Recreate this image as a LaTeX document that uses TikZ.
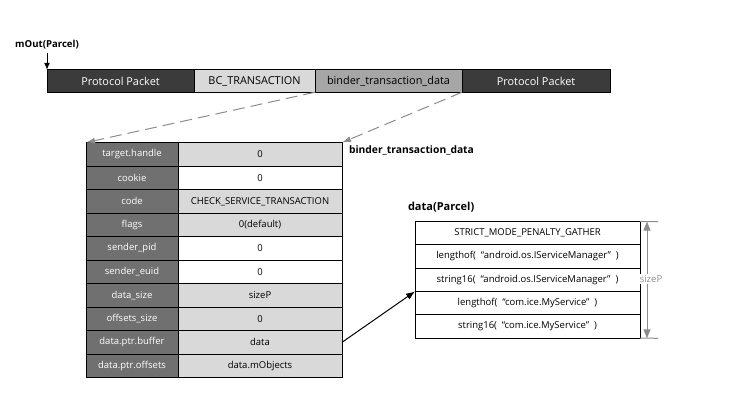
\documentclass[tikz,border=0pt]{standalone}
\usepackage{fontspec}
\setmainfont{Open Sans}
\usetikzlibrary{positioning,arrows.meta}

\definecolor{packetdark}{HTML}{3B3B3B}
\definecolor{packetmid}{HTML}{A6A6A6}
\definecolor{cellgray}{HTML}{D9D9D9}
\definecolor{keygray}{HTML}{707070}
\definecolor{dimgray}{HTML}{8C8C8C}

\begin{document}
\begin{tikzpicture}[
        x=1pt, y=-1pt,
        every node/.style = {inner sep=0pt, outer sep=0pt, font=\fontsize{9.5}{11}\selectfont},
        barcell/.style = {draw=black, line width=0.8pt, minimum height=22.5pt, font=\fontsize{10.9}{12}\selectfont},
        bardark/.style = {barcell, fill=packetdark, text=white},
        barlight/.style = {barcell, fill=cellgray},
        barmid/.style = {barcell, fill=packetmid},
        keycell/.style = {draw=black, line width=0.8pt, fill=keygray, text=white, minimum width=92pt, minimum height=23.5pt},
        valcell/.style = {draw=black, line width=0.8pt, fill=white, minimum width=164pt, minimum height=23.5pt},
        valgray/.style = {valcell, fill=cellgray},
        datacell/.style = {draw=black, line width=0.8pt, fill=white, minimum width=225pt, minimum height=23.3pt},
        title/.style = {font=\bfseries\fontsize{9.6}{12}\selectfont},
        dasharrow/.style = {draw=dimgray, line width=1pt, dash pattern=on 12pt off 6pt, -{Latex[length=9pt,width=6pt]}},
        dimline/.style = {draw=dimgray, line width=1pt}
    ]
    \useasboundingbox (0,0) rectangle (738,407);

    % mOut packet
    \node[bardark, minimum width=147pt] (pp1) at (120.5,81) {Protocol Packet};
    \node[barlight, minimum width=121pt, right=0pt of pp1] (bct) {BC\_TRANSACTION};
    \node[barmid, minimum width=147pt, right=0pt of bct] (btd) {binder\_transaction\_data};
    \node[bardark, minimum width=148pt, right=0pt of btd] (pp2) {Protocol Packet};

    \node[title] (mout) at (47,45) {mOut(Parcel)};
    \draw[line width=1pt, -{Latex[length=7pt,width=6pt]}] (mout.south -| pp1.north west) ++(0,4) -- (pp1.north west);

    % binder_transaction_data
    \node[keycell] (k1) at (132,154.3) {target.handle};
    \node[keycell, below=0pt of k1] (k2) {cookie};
    \node[keycell, below=0pt of k2] (k3) {code};
    \node[keycell, below=0pt of k3] (k4) {flags};
    \node[keycell, below=0pt of k4] (k5) {sender\_pid};
    \node[keycell, below=0pt of k5] (k6) {sender\_euid};
    \node[keycell, below=0pt of k6] (k7) {data\_size};
    \node[keycell, below=0pt of k7] (k8) {offsets\_size};
    \node[keycell, below=0pt of k8] (k9) {data.ptr.buffer};
    \node[keycell, below=0pt of k9] (k10) {data.ptr.offsets};

    \node[valgray, right=0pt of k1] (v1) {0};
    \node[valcell, right=0pt of k2] (v2) {0};
    \node[valgray, right=0pt of k3] (v3) {CHECK\_SERVICE\_TRANSACTION};
    \node[valgray, right=0pt of k4] (v4) {0(default)};
    \node[valcell, right=0pt of k5] (v5) {0};
    \node[valcell, right=0pt of k6] (v6) {0};
    \node[valgray, right=0pt of k7] (v7) {sizeP};
    \node[valgray, right=0pt of k8] (v8) {0};
    \node[valgray, right=0pt of k9] (v9) {data};
    \node[valgray, right=0pt of k10] (v10) {data.mObjects};

    \node[title, font=\bfseries\fontsize{10.3}{12}\selectfont, anchor=west] (btdlabel) at (349,150) {binder\_transaction\_data};

    \draw[dasharrow] (btd.south west) -- (k1.north west);
    \draw[dasharrow] (btd.south east) -- (v1.north east);

    % data Parcel
    \node[datacell] (d1) at (527.5,233.2) {STRICT\_MODE\_PENALTY\_GATHER};
    \node[datacell, below=0pt of d1] (d2) {lengthof(\ \ “android.os.IServiceManager”\ \ )};
    \node[datacell, below=0pt of d2] (d3) {string16(\ \ “android.os.IServiceManager”\ \ )};
    \node[datacell, below=0pt of d3] (d4) {lengthof(\ \ “com.ice.MyService”\ \ )};
    \node[datacell, below=0pt of d4] (d5) {string16(\ \ “com.ice.MyService”\ \ )};

    \node[title, font=\bfseries\fontsize{11}{12}\selectfont, anchor=west] (datalabel) at (408,207) {data(Parcel)};

    \draw[line width=1pt, -{Latex[length=9pt,width=7pt]}] (v9.east) -- (d3.south west);

    % sizeP
    \coordinate (sztop) at (658,221.6);
    \coordinate (szbot) at (658,338.3);
    \coordinate (szA) at (647,221.6);
    \coordinate (szB) at (647,338.3);
    \draw[dimline] (d1.north east) -- (sztop);
    \draw[dimline] (d5.south east) -- (szbot);
    \node[text=dimgray, fill=white, inner sep=1pt] (szl) at (651,279) {sizeP};
    \draw[dimline, -{Triangle[length=9pt,width=7pt]}] (szl.north -| szA) -- (szA);
    \draw[dimline, -{Triangle[length=9pt,width=7pt]}] (szl.south -| szB) -- (szB);
\end{tikzpicture}
\end{document}
